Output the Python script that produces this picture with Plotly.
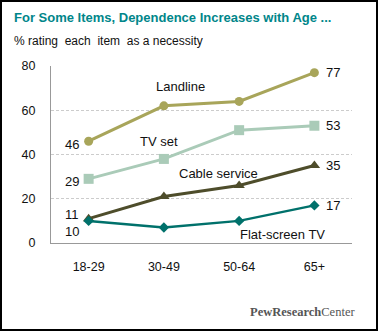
import plotly.graph_objects as go

categories = ["18-29", "30-49", "50-64", "65+"]
landline = [46, 62, 64, 77]
tv_set = [29, 38, 51, 53]
cable = [11, 21, 26, 35]
flat_tv = [10, 7, 10, 17]
y_ticks = [0, 20, 40, 60, 80]

series = [
    ("Landline", landline, "#A8A55A", "circle", 9, 3),
    ("TV set", tv_set, "#AACBB8", "square", 10, 3),
    ("Cable service", cable, "#4E4D2B", "triangle-up", 10, 3),
    ("Flat-screen TV", flat_tv, "#00716B", "diamond", 8, 2.5),
]

fig = go.Figure()
for name, vals, col, sym, ms, lw in series:
    fig.add_trace(go.Scatter(
        x=categories, y=vals, mode="lines+markers", name=name,
        line=dict(color=col, width=lw),
        marker=dict(symbol=sym, size=ms, color=col),
        showlegend=False, hoverinfo="skip",
    ))

font = "Liberation Sans, Arial, sans-serif"
ann = []
left_offsets = {"Landline": -3, "TV set": -3, "Cable service": 4, "Flat-screen TV": -11}
for name, vals, col, sym, ms, lw in series:
    ann.append(dict(x=0, y=vals[0], xref="x", yref="y", text=str(vals[0]),
                    showarrow=False, xanchor="right", xshift=-8,
                    yshift=left_offsets[name], font=dict(size=13, color="#111", family=font)))
    ann.append(dict(x=3, y=vals[-1], xref="x", yref="y", text=str(vals[-1]),
                    showarrow=False, xanchor="left", xshift=10,
                    font=dict(size=13, color="#111", family=font)))

name_pos = [("Landline", 1.22, 70.7), ("TV set", 0.93, 45.8),
            ("Cable service", 1.73, 31.5), ("Flat-screen TV", 2.57, 3.9)]
for txt, xx, yy in name_pos:
    ann.append(dict(x=xx, y=yy, xref="x", yref="y", text=txt, showarrow=False,
                    font=dict(size=13, color="#111", family=font)))

W, H = 378, 331
L, R, T, B = 51, 26, 66, 88
pw, ph = W - L - R, H - T - B

def px(x):
    return (x - L) / pw

def py(y):
    return (H - B - y) / ph

ann.append(dict(x=px(12), y=py(17), xref="paper", yref="paper",
                text="<b>For Some Items, Dependence Increases with Age ...</b>",
                showarrow=False, xanchor="left", yanchor="middle",
                font=dict(size=13, color="#00868A", family=font)))
ann.append(dict(x=px(12), y=py(41), xref="paper", yref="paper",
                text="% rating  each  item  as a necessity",
                showarrow=False, xanchor="left", yanchor="middle",
                font=dict(size=12, color="#111", family=font)))
ann.append(dict(x=px(357), y=py(312), xref="paper", yref="paper",
                text="<b>PewResearch</b>Center",
                showarrow=False, xanchor="right", yanchor="middle",
                font=dict(size=12.5, color="#555", family="Liberation Serif, serif")))

fig.update_layout(
    width=W, height=H,
    margin=dict(l=L, r=R, t=T, b=B),
    paper_bgcolor="white", plot_bgcolor="white",
    annotations=ann,
    shapes=[dict(type="rect", xref="paper", yref="paper",
                 x0=px(1), x1=px(377), y0=py(330), y1=py(1),
                 line=dict(color="black", width=2))],
    xaxis=dict(type="category", range=[-0.5, 3.5], showgrid=False,
               showline=True, linecolor="#999", linewidth=1, ticks="",
               tickfont=dict(size=12.5, color="#111", family=font),
               ticklabelstandoff=12, fixedrange=True),
    yaxis=dict(range=[0, 80], tickvals=y_ticks, showgrid=True,
               gridcolor="#cccccc", griddash="3px,2px", gridwidth=1,
               zeroline=False, showline=True, linecolor="#999", linewidth=1,
               ticks="", tickfont=dict(size=12.5, color="#111", family=font),
               ticklabelstandoff=12, fixedrange=True),
)

fig.write_html("out.html")
